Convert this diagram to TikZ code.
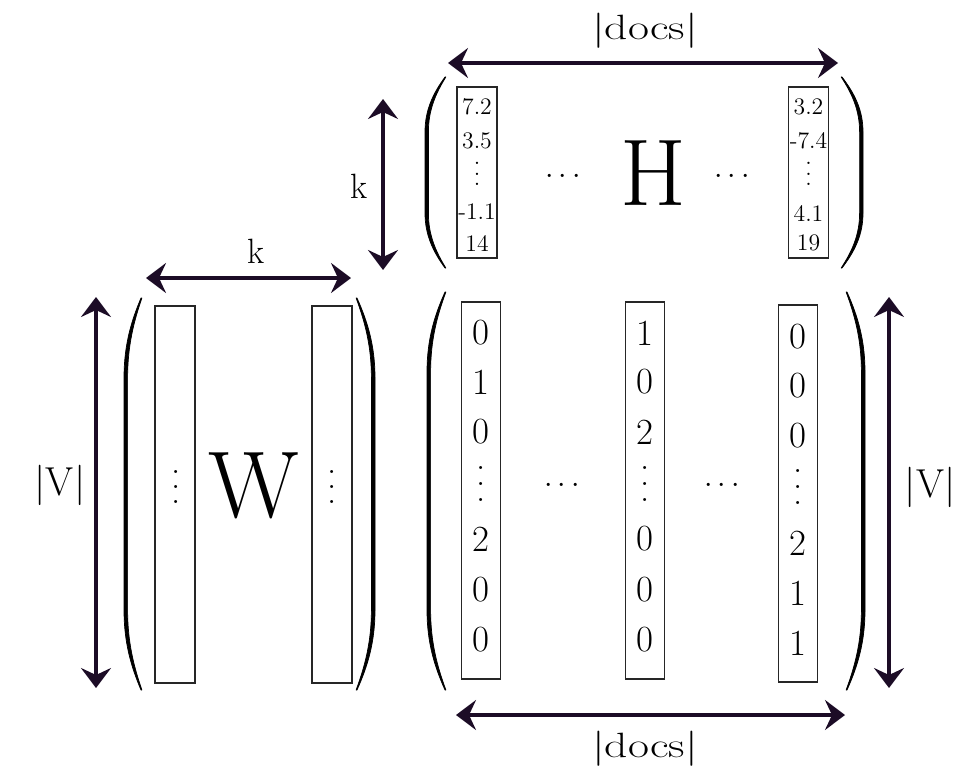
\documentclass[tikz,border=0pt]{standalone}
\usepackage{fontspec}
\usepackage{graphicx}
\usetikzlibrary{arrows.meta,positioning,calc}
\definecolor{dimink}{RGB}{28,12,38}
\newcommand{\colvdots}[1]{\vbox{\baselineskip=#1\lineskiplimit=-100pt\hbox{.}\hbox{.}\hbox{.}}}
\tikzset{colbox/.style={draw=black!85,line width=0.7pt,inner sep=0pt},
  dimarrow/.style={{Stealth[length=4mm,width=6mm,inset=1.4mm]}-{Stealth[length=4mm,width=6mm,inset=1.4mm]},line width=1.8pt,dimink},
  paren/.style={fill=black,draw=black,line width=0.4pt,line join=round},
  dimlabel/.style={font=\fontsize{20}{20}\selectfont,inner sep=0pt},
  entry/.style={font=\fontsize{21}{21}\selectfont,inner sep=0pt},
  hentry/.style={font=\fontsize{13.5}{13.5}\selectfont,inner sep=0pt},
  dotsnode/.style={font=\fontsize{19}{19}\selectfont,inner sep=0pt,anchor=base},
  bigletter/.style={font=\fontsize{54}{54}\selectfont,inner sep=0pt}}

\begin{document}
\begin{tikzpicture}[x=0.02cm,y=-0.02cm]
\useasboundingbox (0,0) rectangle (980,777);
% parentheses: x, top, bottom, bulge, straight part, thickness
\foreach \px/\pt/\pb/\pd/\pe/\pw in {445/77/268/-20/55/3.4, 842/77/268/21/55/-3.4,
    141/298/690/-17/80/3.6, 357/298/690/18/80/-3.6,
    445/292/690/-18/80/3.6, 847/292/690/18/80/-3.6}
  \path[paren] (\px,\pt) .. controls ({\px+0.6*\pd},{\pt+0.3*\pe}) and ({\px+\pd},{\pt+0.6*\pe}) .. ({\px+\pd},{\pt+\pe})
    -- ({\px+\pd},{\pb-\pe}) .. controls ({\px+\pd},{\pb-0.6*\pe}) and ({\px+0.6*\pd},{\pb-0.3*\pe}) .. (\px,\pb)
    -- ({\px+\pw/4},\pb) .. controls ({\px+0.6*\pd+0.8*\pw},{\pb-0.3*\pe}) and ({\px+\pd+\pw},{\pb-0.6*\pe}) .. ({\px+\pd+\pw},{\pb-\pe})
    -- ({\px+\pd+\pw},{\pt+\pe}) .. controls ({\px+\pd+\pw},{\pt+0.6*\pe}) and ({\px+0.6*\pd+0.8*\pw},{\pt+0.3*\pe}) .. ({\px+\pw/4},\pt) -- cycle;
% H (k x |docs|)
\node[colbox,minimum width=0.8cm,minimum height=3.42cm] (hcolA) at (477,172.5) {};
\node[colbox,minimum width=0.8cm,minimum height=3.42cm] (hcolB) at (808.5,172.5) {};
\foreach \val/\yy [count=\i] in {7.2/107,3.5/141,-1.1/212,14/243}
  \node[hentry] (hA\i) at (477,\yy) {\val};
\foreach \val/\yy [count=\i] in {3.2/107,-7.4/141,4.1/213,19/243}
  \node[hentry] (hB\i) at (808.5,\yy) {\val};
\node[hentry] (hAdots) at (477,174) {\colvdots{6pt}};
\node[hentry] (hBdots) at (808.5,174) {\colvdots{6pt}};
\node[dotsnode] (hdotsL) at (563,183) {$\cdots$};
\node[dotsnode] (hdotsR) at (732,183) {$\cdots$};
\node[bigletter] (Hname) at (653.5,173) {H};
% W (|V| x k)
\node[colbox,minimum width=0.8cm,minimum height=7.54cm] (wcolA) at (175,494.5) {};
\node[colbox,minimum width=0.8cm,minimum height=7.54cm] (wcolB) at (332,494.5) {};
\node[entry] (wAdots) at (176,487) {\colvdots{8.8pt}};
\node[entry] (wBdots) at (332,487) {\colvdots{8.8pt}};
\node[bigletter] (Wname) at (254,486) {W};
% V (|V| x |docs|)
\node[colbox,minimum width=0.78cm,minimum height=7.54cm] (vcolA) at (481,490.5) {};
\node[colbox,minimum width=0.78cm,minimum height=7.54cm] (vcolB) at (645,490.5) {};
\node[colbox,minimum width=0.78cm,minimum height=7.54cm] (vcolC) at (798,493.5) {};
\foreach \val/\yy [count=\i] in {0/333,1/382,0/432,2/539,0/590,0/640}
  \node[entry] (vA\i) at (481,\yy) {\val};
\foreach \val/\yy [count=\i] in {1/333,0/382,2/432,0/539,0/590,0/640}
  \node[entry] (vB\i) at (645,\yy) {\val};
\foreach \val/\yy [count=\i] in {0/337,0/386,0/436,2/543,1/593,1/643}
  \node[entry] (vC\i) at (798,\yy) {\val};
\node[entry] (vAdots) at (481,484) {\colvdots{9pt}};
\node[entry] (vBdots) at (645,484) {\colvdots{9pt}};
\node[entry] (vCdots) at (798,487) {\colvdots{9pt}};
\node[dotsnode] (vdotsL) at (562,492) {$\cdots$};
\node[dotsnode] (vdotsR) at (722,492) {$\cdots$};
% dimension arrows
\coordinate (docsTL) at (448,63);
\coordinate (docsTR) at (838,63);
\coordinate (kvT) at (383,99);
\coordinate (kvB) at (383,270);
\coordinate (khL) at (146,278);
\coordinate (khR) at (351,278);
\coordinate (vlT) at (96,297);
\coordinate (vlB) at (96,688);
\coordinate (vrT) at (889,297);
\coordinate (vrB) at (889,688);
\coordinate (docsBL) at (456,715);
\coordinate (docsBR) at (845,715);
\draw[dimarrow] (docsTL) -- (docsTR);
\draw[dimarrow] (kvT) -- (kvB);
\draw[dimarrow] (khL) -- (khR);
\draw[dimarrow] (vlT) -- (vlB);
\draw[dimarrow] (vrT) -- (vrB);
\draw[dimarrow] (docsBL) -- (docsBR);
\node[dimlabel] (docsTop) at (645,31) {\scalebox{1.3}[1]{|docs|}};
\node[dimlabel] (docsBot) at (645,749) {\scalebox{1.3}[1]{|docs|}};
\node[dimlabel,font=\fontsize{20}{20}\selectfont] (kLeft) at (359,186) {k};
\node[dimlabel,font=\fontsize{20}{20}\selectfont] (kTop) at (256,251) {k};
\node[dimlabel,font=\fontsize{23}{23}\selectfont] (vLeft) at (60,485) {|V|};
\node[dimlabel,font=\fontsize{23}{23}\selectfont] (vRight) at (930,487) {|V|};
\end{tikzpicture}
\end{document}
